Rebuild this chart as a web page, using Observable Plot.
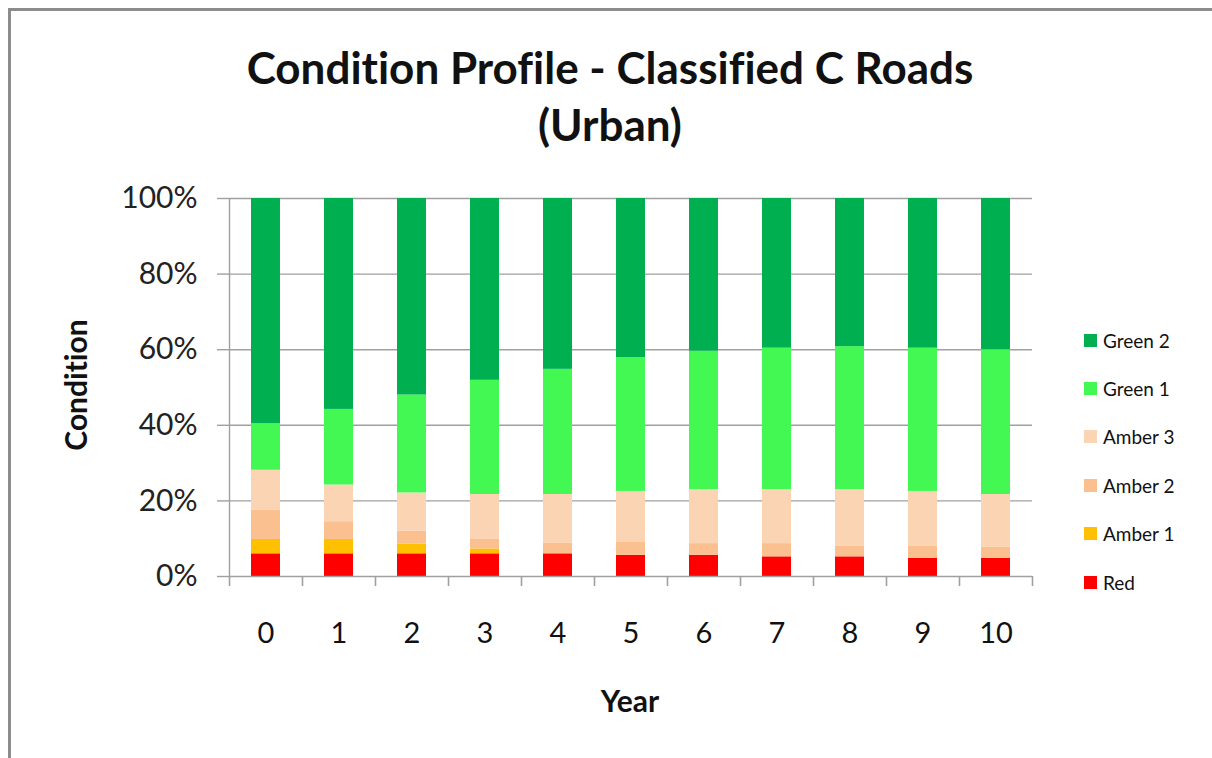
<!DOCTYPE html>
<html>
<head>
<meta charset="utf-8">
<script src="https://cdn.jsdelivr.net/npm/d3@7"></script>
<script src="https://cdn.jsdelivr.net/npm/@observablehq/plot@0.6"></script>
<style>
  html, body { margin: 0; padding: 0; background: #fff; }
  #wrap { position: relative; width: 1212px; height: 758px; overflow: hidden; font-family: Lato, sans-serif; color: #111; font-variant-ligatures: none; }
  #frame { position: absolute; left: 8px; top: 8px; right: -10px; bottom: -10px; border-left: 3px solid #8c8c8c; border-top: 3px solid #8c8c8c; }
  #chart { position: absolute; left: 0; top: 0; }
  #chart svg { font-variant-ligatures: none; }
  .title { position: absolute; left: 0; width: 1220px; text-align: center; font-weight: bold; font-size: 44px; line-height: 1; }
  #ylab { position: absolute; left: 75px; top: 385px; transform: translate(-50%, -50%) rotate(-90deg); font-weight: bold; font-size: 30px; white-space: nowrap; }
  #xlab { position: absolute; left: 630px; top: 700px; transform: translate(-50%, -50%); font-weight: bold; font-size: 30px; }
  #legend { position: absolute; left: 1084px; top: 316px; }
  .li { height: 48.4px; display: flex; align-items: center; font-size: 19px; }
  .sw { width: 13px; height: 13px; margin-right: 6px; }
</style>
</head>
<body>
<div id="wrap">
  <div id="frame"></div>
  <div id="chart"></div>
  <div class="title" style="top:45px">Condition Profile - Classified C Roads</div>
  <div class="title" style="top:102px">(Urban)</div>
  <div id="ylab">Condition</div>
  <div id="xlab">Year</div>
  <div id="legend"></div>
</div>
<script>
const years = [0, 1, 2, 3, 4, 5, 6, 7, 8, 9, 10];
const red    = [6.0, 6.0, 6.0, 6.0, 6.0, 5.6, 5.6, 5.2, 5.2, 4.8, 4.8];
const amber1 = [3.8, 3.8, 2.6, 1.3, 0, 0, 0, 0, 0, 0, 0];
const amber2 = [7.7, 4.7, 3.4, 2.5, 2.9, 3.4, 3.1, 3.5, 2.9, 3.3, 2.9];
const amber3 = [10.6, 9.7, 10.1, 11.9, 12.8, 13.5, 14.3, 14.3, 14.9, 14.4, 14.0];
const green1 = [12.3, 20.0, 25.9, 30.2, 33.1, 35.4, 36.6, 37.4, 37.8, 37.9, 38.3];
const green2 = [59.6, 55.8, 52.0, 48.1, 45.2, 42.1, 40.4, 39.6, 39.2, 39.6, 40.0];
const seriesNames = ["Red", "Amber 1", "Amber 2", "Amber 3", "Green 1", "Green 2"];
const seriesValues = [red, amber1, amber2, amber3, green1, green2];
const seriesColors = ["#ff0000", "#ffc000", "#fac090", "#fbd4b4", "#44f854", "#00b050"];
const yTicks = [0, 20, 40, 60, 80, 100];
const legendOrder = ["Green 2", "Green 1", "Amber 3", "Amber 2", "Amber 1", "Red"];

const data = [];
seriesNames.forEach((s, i) => years.forEach((yr, j) => data.push({year: yr, series: s, value: seriesValues[i][j]})));

const W = 1212, H = 758, ML = 229, MR = 180, MT = 198, MB = 182;
const bw = (W - ML - MR) / years.length;
const grey = "#a0a0a0";

const plot = Plot.plot({
  width: W, height: H,
  marginLeft: ML, marginRight: MR, marginTop: MT, marginBottom: MB,
  style: {fontFamily: "Lato, sans-serif", background: "transparent"},
  x: {type: "band", domain: years, paddingInner: 0, paddingOuter: 0, label: null},
  y: {domain: [0, 100], label: null},
  color: {domain: seriesNames, range: seriesColors},
  marks: [
    Plot.gridY(yTicks.slice(1), {stroke: grey, strokeOpacity: 1, strokeWidth: 1.4}),
    Plot.barY(data, {x: "year", y: "value", fill: "series", order: seriesNames, insetLeft: 22, insetRight: 22}),
    Plot.ruleY([0], {stroke: grey, strokeWidth: 1.6}),
    Plot.ruleX([years[0]], {dx: -bw / 2, stroke: grey, strokeWidth: 1.4}),
    Plot.axisY(yTicks, {label: null, tickSize: 12, tickPadding: 20, tickFormat: d => d + "%", fontSize: 30, stroke: grey, strokeWidth: 1.4, fill: "#222"}),
    Plot.axisX(years, {label: null, tickSize: 0, tickPadding: 46, fontSize: 29, fill: "#111"}),
    Plot.axisX(years, {label: null, tickSize: 10, tickFormat: () => "", dx: -bw / 2, stroke: grey, strokeWidth: 1.6}),
    Plot.axisX([years[years.length - 1]], {label: null, tickSize: 10, tickFormat: () => "", dx: bw / 2, stroke: grey, strokeWidth: 1.6})
  ]
});
document.getElementById("chart").appendChild(plot);

const legend = document.getElementById("legend");
legendOrder.forEach(name => {
  const i = seriesNames.indexOf(name);
  const row = document.createElement("div");
  row.className = "li";
  const sw = document.createElement("div");
  sw.className = "sw";
  sw.style.background = seriesColors[i];
  const t = document.createElement("span");
  t.textContent = name;
  row.appendChild(sw); row.appendChild(t);
  legend.appendChild(row);
});
</script>
</body>
</html>
